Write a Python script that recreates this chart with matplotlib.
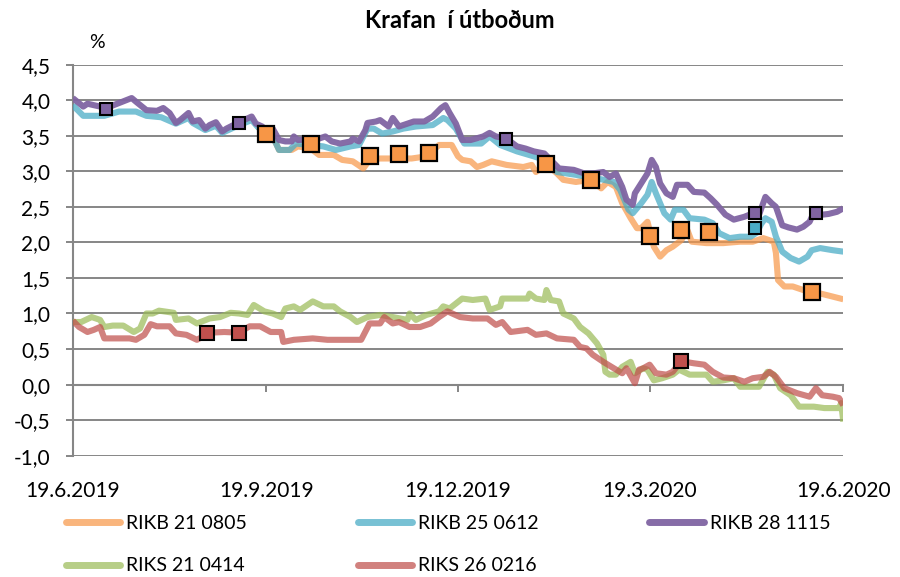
import matplotlib
matplotlib.use("Agg")
import matplotlib.pyplot as plt
import matplotlib.dates as mdates
from matplotlib.lines import Line2D
import numpy as np
import pandas as pd

plt.rcParams['font.family'] = ['Lato', 'DejaVu Sans']

# dagar frá 19.6.2019
start = pd.Timestamp("2019-06-19")

# RIKB 21 0805
o_days = [88,92,95,98,104,107,113,117,124,128,133,138,141,146,155,161,168,174,180,183,185,189,192,195,199,206,214,218,220,225,230,233,239,246,251,254,258,261,265,268,270,273,276,279,282,285,289,292,294,301,309,317,323,328,333,334,335,338,342,347,351,358,366]
o_vals = [3.62,3.53,3.49,3.30,3.30,3.35,3.32,3.23,3.23,3.16,3.14,3.04,3.16,3.18,3.18,3.18,3.21,3.37,3.37,3.21,3.16,3.14,3.06,3.09,3.14,3.09,3.06,3.09,2.99,3.10,2.97,2.88,2.85,2.88,2.76,2.85,2.78,2.55,2.34,2.20,2.20,2.29,1.94,1.80,1.89,1.94,2.03,2.17,2.01,1.99,1.99,2.01,2.01,2.06,2.01,1.85,1.47,1.38,1.38,1.33,1.31,1.26,1.20]

# RIKB 25 0612
t_days = [0,5,15,22,30,35,42,49,55,57,63,68,71,79,85,88,92,95,98,103,106,113,119,125,132,136,140,143,147,152,157,163,171,176,178,182,186,194,198,203,211,219,224,230,239,249,257,260,264,266,270,273,275,277,281,284,286,290,293,300,304,307,312,317,322,325,327,329,332,334,337,341,345,349,351,355,361,366]
t_vals = [3.93,3.78,3.78,3.84,3.84,3.78,3.76,3.67,3.75,3.68,3.58,3.64,3.54,3.65,3.72,3.62,3.53,3.49,3.30,3.30,3.39,3.37,3.35,3.30,3.35,3.37,3.60,3.60,3.53,3.56,3.60,3.63,3.65,3.75,3.72,3.60,3.39,3.39,3.49,3.37,3.28,3.21,3.16,2.99,2.95,2.90,2.85,2.74,2.46,2.41,2.55,2.67,2.85,2.69,2.41,2.32,2.46,2.46,2.34,2.32,2.27,2.13,2.06,2.08,2.08,2.14,2.26,2.34,2.29,2.08,1.87,1.78,1.73,1.80,1.89,1.92,1.89,1.87]

# RIKB 28 1115
p_days = [0,5,7,10,16,22,28,30,35,40,43,46,49,51,55,57,60,63,65,68,71,73,79,85,87,90,92,95,98,101,104,105,107,114,117,120,123,127,132,133,136,139,140,144,146,150,152,155,159,162,167,171,175,177,179,182,185,189,195,198,201,206,211,215,219,224,227,231,238,243,247,252,255,258,261,263,266,267,270,273,275,277,279,282,285,287,292,295,300,303,306,310,314,319,324,326,329,332,334,337,340,344,347,350,352,356,359,363,366]
p_vals = [4.03,3.91,3.95,3.93,3.89,3.96,4.03,3.98,3.86,3.85,3.89,3.82,3.68,3.72,3.82,3.70,3.72,3.60,3.65,3.69,3.56,3.60,3.69,3.77,3.67,3.63,3.57,3.60,3.44,3.42,3.42,3.49,3.44,3.45,3.46,3.49,3.42,3.39,3.42,3.46,3.42,3.58,3.68,3.70,3.72,3.63,3.75,3.63,3.67,3.70,3.70,3.77,3.89,3.93,3.82,3.67,3.44,3.44,3.49,3.54,3.49,3.46,3.35,3.32,3.28,3.25,3.16,3.04,3.02,2.97,2.97,2.99,2.92,2.97,2.78,2.60,2.53,2.69,2.83,2.97,3.16,3.06,2.83,2.69,2.64,2.81,2.81,2.71,2.70,2.62,2.53,2.39,2.32,2.36,2.42,2.39,2.64,2.55,2.50,2.24,2.21,2.18,2.22,2.29,2.42,2.39,2.40,2.43,2.48]

# RIKS 21 0414
g_days = [0,4,9,13,15,19,24,29,32,35,38,41,48,49,55,59,65,70,75,79,83,86,91,95,99,101,105,108,114,119,124,127,132,135,140,146,152,159,160,163,168,174,176,179,185,190,196,198,203,204,216,217,220,224,225,227,231,233,238,241,245,249,252,253,255,258,261,265,267,271,273,276,280,285,288,293,301,304,309,314,317,326,330,333,336,341,345,352,357,364,365,366]
g_vals = [0.88,0.88,0.95,0.91,0.81,0.83,0.83,0.74,0.79,1.00,1.00,1.04,1.01,0.91,0.93,0.86,0.93,0.95,1.01,1.00,0.98,1.12,1.03,1.00,0.95,1.07,1.10,1.05,1.17,1.10,1.10,1.03,0.95,0.88,0.95,0.98,0.95,0.91,1.00,0.91,0.98,1.03,1.10,1.07,1.21,1.19,1.21,1.05,1.10,1.21,1.21,1.28,1.21,1.19,1.33,1.19,1.17,1.00,0.93,0.81,0.72,0.58,0.42,0.18,0.14,0.14,0.25,0.32,0.16,0.23,0.21,0.06,0.09,0.14,0.21,0.14,0.14,0.04,0.06,0.09,-0.03,-0.03,0.18,0.14,-0.05,-0.15,-0.31,-0.31,-0.33,-0.33,-0.26,-0.52]

# RIKS 26 0216
r_days = [0,3,7,10,13,15,20,27,30,34,37,40,46,49,54,59,65,72,79,84,89,94,99,100,105,114,121,130,137,141,146,148,152,155,160,165,170,174,178,184,190,197,201,204,208,216,220,225,230,238,241,244,247,252,257,261,263,267,269,271,274,277,282,285,289,295,300,304,309,314,319,323,328,331,334,338,344,350,353,356,361,364,366]
r_vals = [0.90,0.81,0.74,0.77,0.81,0.65,0.65,0.65,0.63,0.70,0.85,0.82,0.82,0.72,0.70,0.63,0.73,0.74,0.73,0.82,0.82,0.74,0.74,0.60,0.63,0.65,0.63,0.63,0.63,0.86,0.86,0.95,0.86,0.88,0.81,0.81,0.86,0.95,1.03,0.95,0.93,0.93,0.84,0.88,0.74,0.77,0.70,0.72,0.65,0.63,0.53,0.51,0.42,0.32,0.23,0.16,0.23,0.02,0.21,0.23,0.28,0.16,0.14,0.18,0.33,0.30,0.28,0.18,0.10,0.09,0.04,0.09,0.11,0.18,0.11,-0.05,-0.12,-0.17,-0.05,-0.15,-0.17,-0.19,-0.29]

# útboð (ferningar)
o_auc_days = [92,113,141,155,169,225,246,274,289,302,351]
o_auc_vals = [3.53,3.38,3.21,3.24,3.26,3.10,2.88,2.09,2.17,2.15,1.30]
t_auc_days = [324]
t_auc_vals = [2.20]
p_auc_days = [16,79,206,324,353]
p_auc_vals = [3.87,3.68,3.46,2.42,2.42]
r_auc_days = [64,79,289]
r_auc_vals = [0.73,0.73,0.33]

tick_dates = ["2019-06-19", "2019-09-19", "2019-12-19", "2020-03-19", "2020-06-19"]
tick_labels = ["19.6.2019", "19.9.2019", "19.12.2019", "19.3.2020", "19.6.2020"]


def to_x(days):
    return mdates.date2num(start + pd.to_timedelta(days, unit="D"))


grey = "#868686"

fig = plt.figure(figsize=(9, 5.77), dpi=100)
ax = fig.add_axes([0.0808, 0.2102, 0.8562, 0.6778])

series = [
    ("RIKB 21 0805", o_days, o_vals, "#F79646", 0.70),
    ("RIKB 25 0612", t_days, t_vals, "#4BACC6", 0.75),
    ("RIKB 28 1115", p_days, p_vals, "#8064A2", 0.95),
    ("RIKS 21 0414", g_days, g_vals, "#9BBB59", 0.72),
    ("RIKS 26 0216", r_days, r_vals, "#C0504D", 0.72),
]
handles = {}
for name, d, v, c, a in series:
    ln, = ax.plot(to_x(d), v, color=c, alpha=a, lw=4.4, solid_joinstyle="round",
                  solid_capstyle="butt", label=name, zorder=3)
    handles[name] = ln

mk = dict(marker="s", linestyle="none", markeredgecolor="black", zorder=5)
ax.plot(to_x(o_auc_days), o_auc_vals, markerfacecolor="#F79646", markersize=11.5, markeredgewidth=1.6, **mk)
ax.plot(to_x(t_auc_days), t_auc_vals, markerfacecolor="#4BACC6", markersize=9, markeredgewidth=1.5, **mk)
ax.plot(to_x(p_auc_days), p_auc_vals, markerfacecolor="#8064A2", markersize=9, markeredgewidth=1.5, **mk)
ax.plot(to_x(r_auc_days), r_auc_vals, markerfacecolor="#C0504D", markersize=10, markeredgewidth=1.5, **mk)

ax.set_xlim(to_x(0), to_x(366))
ax.set_ylim(-1.0, 4.5)
yt = np.arange(-1.0, 4.51, 0.5)
ax.set_yticks(yt, [f"{t:.1f}".replace(".", ",") for t in yt])
ax.yaxis.grid(True, color=grey, lw=1.4)
ax.set_axisbelow(True)

for s in ["top", "right"]:
    ax.spines[s].set_visible(False)
ax.spines["left"].set_color(grey)
ax.spines["left"].set_linewidth(1.5)
ax.spines["bottom"].set_position(("data", 0))
ax.spines["bottom"].set_color(grey)
ax.spines["bottom"].set_linewidth(1.5)

xt = mdates.date2num(pd.to_datetime(tick_dates))
ax.set_xticks(xt)
ax.tick_params(axis="x", direction="out", length=5, width=1.4, color=grey, labelbottom=False)
ax.tick_params(axis="y", direction="out", length=5, width=1.4, color=grey, pad=11,
               labelsize=15, labelcolor="black")

sec = ax.secondary_xaxis("bottom")
sec.set_xticks(xt, tick_labels)
sec.spines["bottom"].set_visible(False)
sec.tick_params(length=0, pad=18, labelsize=15)

fig.text(0.511, 0.965, "Krafan  í útboðum", ha="center", va="center", fontsize=17, fontweight="bold")
fig.text(0.108, 0.927, "%", ha="center", va="center", fontsize=14)

order = ["RIKB 21 0805", "RIKS 21 0414", "RIKB 25 0612", "RIKS 26 0216", "RIKB 28 1115"]
leg_handles = [Line2D([], [], color=handles[n].get_color(), alpha=handles[n].get_alpha(),
                      lw=5, solid_capstyle="round") for n in order]
fig.legend(leg_handles, order, loc="center left", bbox_to_anchor=(0.062, 0.056), ncol=3,
           frameon=False, fontsize=14, handlelength=2.8, handletextpad=0.3,
           columnspacing=5.7, labelspacing=1.3, borderpad=0)

fig.savefig("out.png", dpi=100)
